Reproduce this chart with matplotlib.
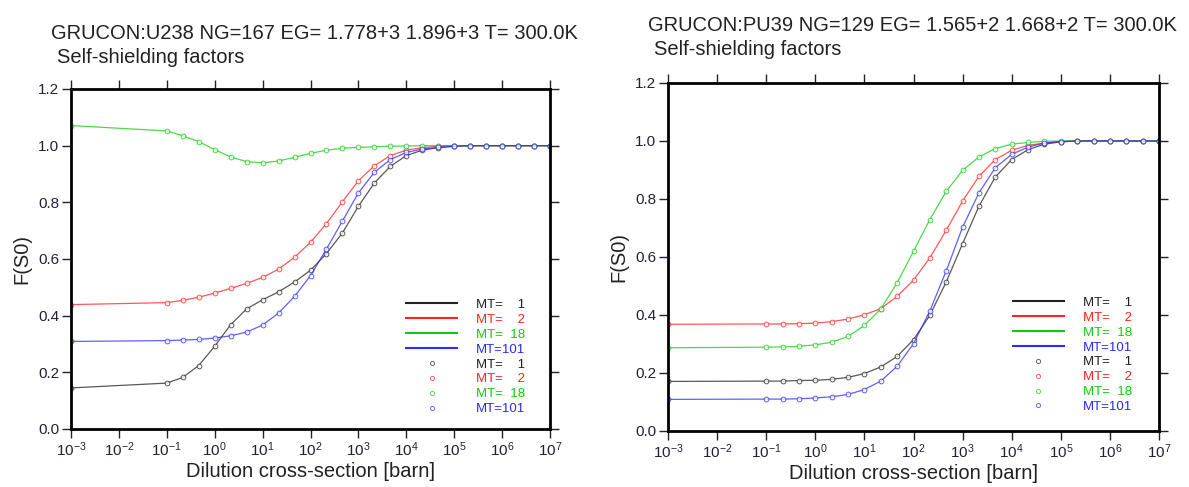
import math

import matplotlib
matplotlib.use("Agg")
import matplotlib.pyplot as plt
from matplotlib.lines import Line2D

plt.rcParams["font.family"] = ["Liberation Sans", "DejaVu Sans"]
plt.rcParams["mathtext.default"] = "regular"

# dilution grid [barn]
dilution = [1e-3, 1e-1, 2.15e-1, 4.64e-1, 1e0, 2.15e0, 4.64e0, 1e1, 2.15e1, 4.64e1,
            1e2, 2.15e2, 4.64e2, 1e3, 2.15e3, 4.64e3, 1e4, 2.15e4, 4.64e4,
            1e5, 2.15e5, 4.64e5, 1e6, 2.15e6, 4.64e6, 1e7]

# U238 self-shielding factors
u238_mt1 = [0.145, 0.162, 0.182, 0.224, 0.292, 0.368, 0.424, 0.456, 0.484, 0.519,
            0.560, 0.619, 0.692, 0.786, 0.868, 0.927, 0.965, 0.984, 0.993, 0.998,
            1.0, 1.0, 1.0, 1.0, 1.0, 1.0]
u238_mt2 = [0.439, 0.446, 0.454, 0.465, 0.480, 0.496, 0.514, 0.535, 0.564, 0.606,
            0.659, 0.725, 0.802, 0.876, 0.929, 0.965, 0.984, 0.993, 0.998, 1.0,
            1.0, 1.0, 1.0, 1.0, 1.0, 1.0]
u238_mt18 = [1.071, 1.052, 1.035, 1.014, 0.986, 0.960, 0.944, 0.939, 0.946, 0.959,
             0.973, 0.984, 0.991, 0.994, 0.996, 0.998, 0.999, 1.0, 1.0, 1.0,
             1.0, 1.0, 1.0, 1.0, 1.0, 1.0]
u238_mt101 = [0.309, 0.312, 0.314, 0.316, 0.321, 0.329, 0.342, 0.367, 0.409, 0.468,
              0.541, 0.635, 0.734, 0.833, 0.906, 0.951, 0.976, 0.988, 0.994, 0.998,
              1.0, 1.0, 1.0, 1.0, 1.0, 1.0]

# PU39 self-shielding factors
pu39_mt1 = [0.171, 0.172, 0.172, 0.174, 0.175, 0.178, 0.185, 0.198, 0.221, 0.257,
            0.315, 0.399, 0.514, 0.646, 0.775, 0.876, 0.936, 0.970, 0.989, 0.997,
            1.0, 1.0, 1.0, 1.0, 1.0, 1.0]
pu39_mt2 = [0.368, 0.369, 0.369, 0.370, 0.372, 0.377, 0.386, 0.401, 0.422, 0.464,
            0.520, 0.597, 0.692, 0.793, 0.878, 0.936, 0.968, 0.985, 0.993, 0.998,
            1.0, 1.0, 1.0, 1.0, 1.0, 1.0]
pu39_mt18 = [0.287, 0.289, 0.290, 0.292, 0.297, 0.306, 0.326, 0.364, 0.421, 0.511,
             0.620, 0.729, 0.826, 0.899, 0.945, 0.974, 0.989, 0.995, 0.999, 1.0,
             1.0, 1.0, 1.0, 1.0, 1.0, 1.0]
pu39_mt101 = [0.109, 0.110, 0.110, 0.111, 0.114, 0.118, 0.126, 0.143, 0.172, 0.223,
              0.301, 0.414, 0.552, 0.703, 0.821, 0.908, 0.954, 0.979, 0.993, 0.998,
              1.0, 1.0, 1.0, 1.0, 1.0, 1.0]

mt_labels = ["MT=\u2007\u20071", "MT=\u2007\u20072", "MT=\u200718", "MT=101"]
mt_colors = ["#222222", "#ff2020", "#10cc10", "#2a2aff"]
titles = ["GRUCON:U238 NG=167 EG= 1.778+3 1.896+3 T= 300.0K",
          "GRUCON:PU39 NG=129 EG= 1.565+2 1.668+2 T= 300.0K"]
subtitle = "Self-shielding factors"
xticks = [1e-3, 1e-2, 1e-1, 1e0, 1e1, 1e2, 1e3, 1e4, 1e5, 1e6, 1e7]
yticks = [0.0, 0.2, 0.4, 0.6, 0.8, 1.0, 1.2]

W, H = 1189, 487
fig = plt.figure(figsize=(W / 100, H / 100), dpi=100)


def px_axes(x0, x1, ytop, ybot):
    return fig.add_axes([x0 / W, 1 - ybot / H, (x1 - x0) / W, (ybot - ytop) / H])


def draw_panel(ax, series, title, title_xy, sub_xy, leg_anchor):
    for ys, c in zip(series, mt_colors):
        ax.plot(dilution, ys, color=c, lw=0.9, alpha=0.75)
        ax.plot(dilution, ys, ls="none", marker="o", ms=3.4, mfc="white",
                mec=c, mew=0.7, alpha=0.75)
    ax.set_xscale("log")
    ax.set_xlim(1e-3, 1e7)
    ax.set_ylim(0, 1.2)
    ax.set_xticks(xticks)
    ax.set_xticklabels([f"$10^{{{int(round(math.log10(t)))}}}$" for t in xticks])
    ax.set_yticks(yticks)
    ax.set_yticklabels([f"{t:.1f}" for t in yticks])
    ax.minorticks_off()
    ax.tick_params(which="major", direction="out", length=6.5, width=1.0,
                   top=True, right=True, labelsize=11, colors="#222233", pad=2)
    for s in ax.spines.values():
        s.set_linewidth(2.0)
    ax.set_xlabel("Dilution cross-section [barn]", fontsize=14.5,
                  color="#222222", labelpad=2)
    ax.set_ylabel("F(S0)", fontsize=14.5, color="#222222", labelpad=5)
    fig.text(title_xy[0] / W, 1 - title_xy[1] / H, title, fontsize=14.5,
             color="#222222", va="baseline")
    fig.text(sub_xy[0] / W, 1 - sub_xy[1] / H, subtitle, fontsize=14.5,
             color="#222222", va="baseline")

    # legend: 4 line entries then 4 marker entries, text in series colour
    handles = [Line2D([], [], color=c, lw=1.5) for c in mt_colors]
    handles += [Line2D([], [], ls="none", marker="o", ms=3.0, mfc="white",
                       mec=c, mew=0.7, alpha=0.7) for c in mt_colors]
    leg = ax.legend(handles, mt_labels + mt_labels, loc="upper left",
                    bbox_to_anchor=leg_anchor, frameon=False, fontsize=9.5,
                    handlelength=3.9, handletextpad=1.4, labelspacing=0.2,
                    borderpad=0, borderaxespad=0)
    for t, c in zip(leg.get_texts(), mt_colors + mt_colors):
        t.set_color(c)


ax1 = px_axes(71, 550, 89, 429)
draw_panel(ax1, [u238_mt1, u238_mt2, u238_mt18, u238_mt101], titles[0],
           (51, 39), (57, 63), (0.699, 0.383))

ax2 = px_axes(668, 1159, 83, 431)
draw_panel(ax2, [pu39_mt1, pu39_mt2, pu39_mt18, pu39_mt101], titles[1],
           (648, 31), (654, 55), (0.702, 0.386))

fig.savefig("out.png", dpi=100, facecolor="white")
